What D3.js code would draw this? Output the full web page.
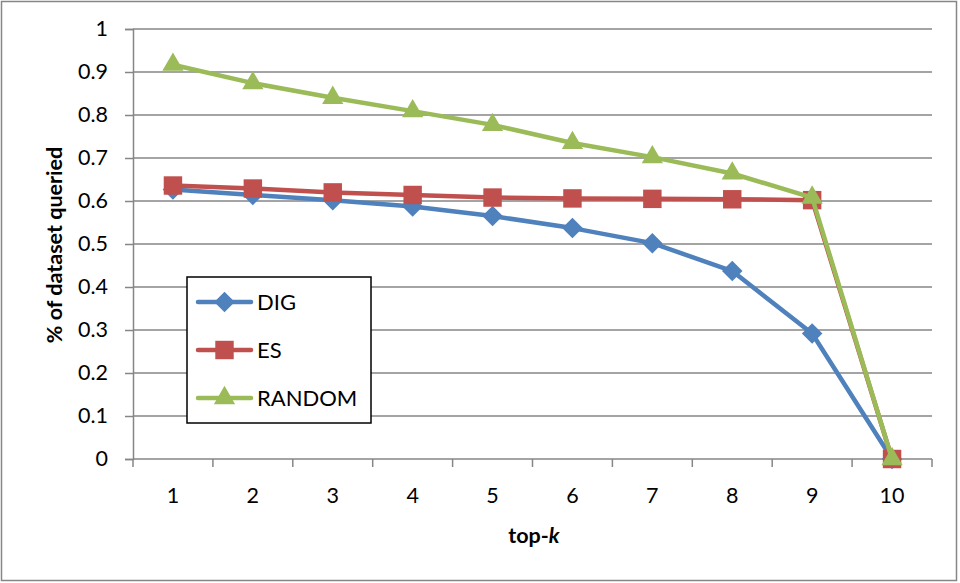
<!DOCTYPE html>
<html>
<head>
<meta charset="utf-8">
<script src="https://cdn.jsdelivr.net/npm/d3@7"></script>
<style>
  html, body { margin: 0; padding: 0; background: #fff; }
  svg text { font-family: Lato, "Open Sans", "Liberation Sans", sans-serif; fill: #000; }
</style>
</head>
<body>
<svg id="chart" width="960" height="583"></svg>
<script>
// top-k categories along the x axis
const categories = ["1", "2", "3", "4", "5", "6", "7", "8", "9", "10"];
// share of the dataset queried for each method
const digValues    = [0.627, 0.614, 0.602, 0.587, 0.565, 0.537, 0.502, 0.437, 0.292, 0.0];
const esValues     = [0.636, 0.629, 0.620, 0.614, 0.608, 0.606, 0.605, 0.604, 0.602, 0.0];
const randomValues = [0.917, 0.874, 0.840, 0.809, 0.777, 0.735, 0.702, 0.664, 0.608, 0.0];
const yTicks = [0, 0.1, 0.2, 0.3, 0.4, 0.5, 0.6, 0.7, 0.8, 0.9, 1];
const seriesNames = ["DIG", "ES", "RANDOM"];
const seriesColors = ["#4F81BD", "#C0504D", "#9BBB59"];

// marker shapes: diamond is a square turned 45 degrees
const markerPath = {
  DIG: d3.symbol().type(d3.symbolSquare).size(210)(),
  ES: d3.symbol().type(d3.symbolSquare).size(340)(),
  RANDOM: d3.symbol().type(d3.symbolTriangle).size(195)()
};
const markerRotate = { DIG: 45, ES: 0, RANDOM: 0 };

const series = seriesNames.map((name, i) => ({
  name,
  color: seriesColors[i],
  values: [digValues, esValues, randomValues][i]
}));

const svg = d3.select("#chart");
const plot = { left: 133, right: 932, top: 29, bottom: 459 };
const fontSize = 21.5;

// outer chart frame
svg.append("rect")
  .attr("x", 1.5).attr("y", 1.5)
  .attr("width", 955).attr("height", 579)
  .attr("fill", "#fff")
  .attr("stroke", "#868686").attr("stroke-width", 1.5);

const x = d3.scaleBand().domain(categories).range([plot.left, plot.right]).padding(0);
const y = d3.scaleLinear().domain([0, 1]).range([plot.bottom, plot.top]);

// horizontal gridlines
svg.append("g")
  .selectAll("line")
  .data(yTicks.filter(t => t > 0))
  .join("line")
  .attr("x1", plot.left).attr("x2", plot.right)
  .attr("y1", d => y(d)).attr("y2", d => y(d))
  .attr("stroke", "#868686").attr("stroke-width", 1.5);

// y axis
const yAxis = svg.append("g")
  .attr("transform", `translate(${plot.left},0)`)
  .call(d3.axisLeft(y).tickValues(yTicks).tickSize(8).tickPadding(17)
    .tickFormat(d => d3.format("")(+d.toFixed(1))));
yAxis.select(".domain").attr("stroke", "#868686").attr("stroke-width", 1.5);
yAxis.selectAll(".tick line").attr("stroke", "#868686").attr("stroke-width", 1.5);
yAxis.selectAll("text").attr("font-size", fontSize).attr("fill", "#000")
  .style("font-family", "Lato, 'Open Sans', sans-serif");

// x axis: ticks sit on the category boundaries, labels at the centres
const xAxisG = svg.append("g").attr("transform", `translate(0,${plot.bottom})`);
xAxisG.append("line")
  .attr("x1", plot.left).attr("x2", plot.right)
  .attr("stroke", "#868686").attr("stroke-width", 1.5);
const boundaries = categories.map(c => x(c)).concat([x(categories[categories.length - 1]) + x.bandwidth()]);
xAxisG.selectAll("line.tick")
  .data(boundaries)
  .join("line").attr("class", "tick")
  .attr("x1", d => d).attr("x2", d => d)
  .attr("y1", 0).attr("y2", 8)
  .attr("stroke", "#868686").attr("stroke-width", 1.5);
xAxisG.selectAll("text")
  .data(categories)
  .join("text")
  .attr("x", d => x(d) + x.bandwidth() / 2)
  .attr("y", 44)
  .attr("text-anchor", "middle")
  .attr("font-size", fontSize)
  .text(d => d);

// axis titles
svg.append("text")
  .attr("x", 534).attr("y", 543)
  .attr("text-anchor", "middle")
  .attr("font-size", fontSize).attr("font-weight", "bold")
  .call(t => {
    t.append("tspan").text("top-");
    t.append("tspan").attr("font-style", "italic").text("k");
  });

svg.append("text")
  .attr("transform", `translate(62,245) rotate(-90)`)
  .attr("text-anchor", "middle")
  .attr("font-size", fontSize).attr("font-weight", "bold")
  .text("% of dataset queried");

// series lines and markers
const line = d3.line()
  .x((d, i) => x(categories[i]) + x.bandwidth() / 2)
  .y(d => y(d));

series.forEach(s => {
  const g = svg.append("g");
  g.append("path")
    .datum(s.values)
    .attr("d", line)
    .attr("fill", "none")
    .attr("stroke", s.color)
    .attr("stroke-width", 4.5)
    .attr("stroke-linejoin", "round")
    .attr("stroke-linecap", "round");
  g.selectAll("path.marker")
    .data(s.values)
    .join("path").attr("class", "marker")
    .attr("transform", (d, i) =>
      `translate(${x(categories[i]) + x.bandwidth() / 2},${y(d)}) rotate(${markerRotate[s.name]})`)
    .attr("d", markerPath[s.name])
    .attr("fill", s.color);
});

// legend
const legend = svg.append("g");
legend.append("rect")
  .attr("x", 187).attr("y", 277)
  .attr("width", 184).attr("height", 146)
  .attr("fill", "#fff").attr("stroke", "#000").attr("stroke-width", 1.5);
series.forEach((s, i) => {
  const cy = 302 + i * 48;
  legend.append("line")
    .attr("x1", 198).attr("x2", 251)
    .attr("y1", cy).attr("y2", cy)
    .attr("stroke", s.color).attr("stroke-width", 4.5)
    .attr("stroke-linecap", "round");
  legend.append("path")
    .attr("transform", `translate(224.5,${cy}) rotate(${markerRotate[s.name]})`)
    .attr("d", markerPath[s.name])
    .attr("fill", s.color);
  legend.append("text")
    .attr("x", 257).attr("y", cy + 8)
    .attr("font-size", 22)
    .text(s.name);
});
</script>
</body>
</html>
